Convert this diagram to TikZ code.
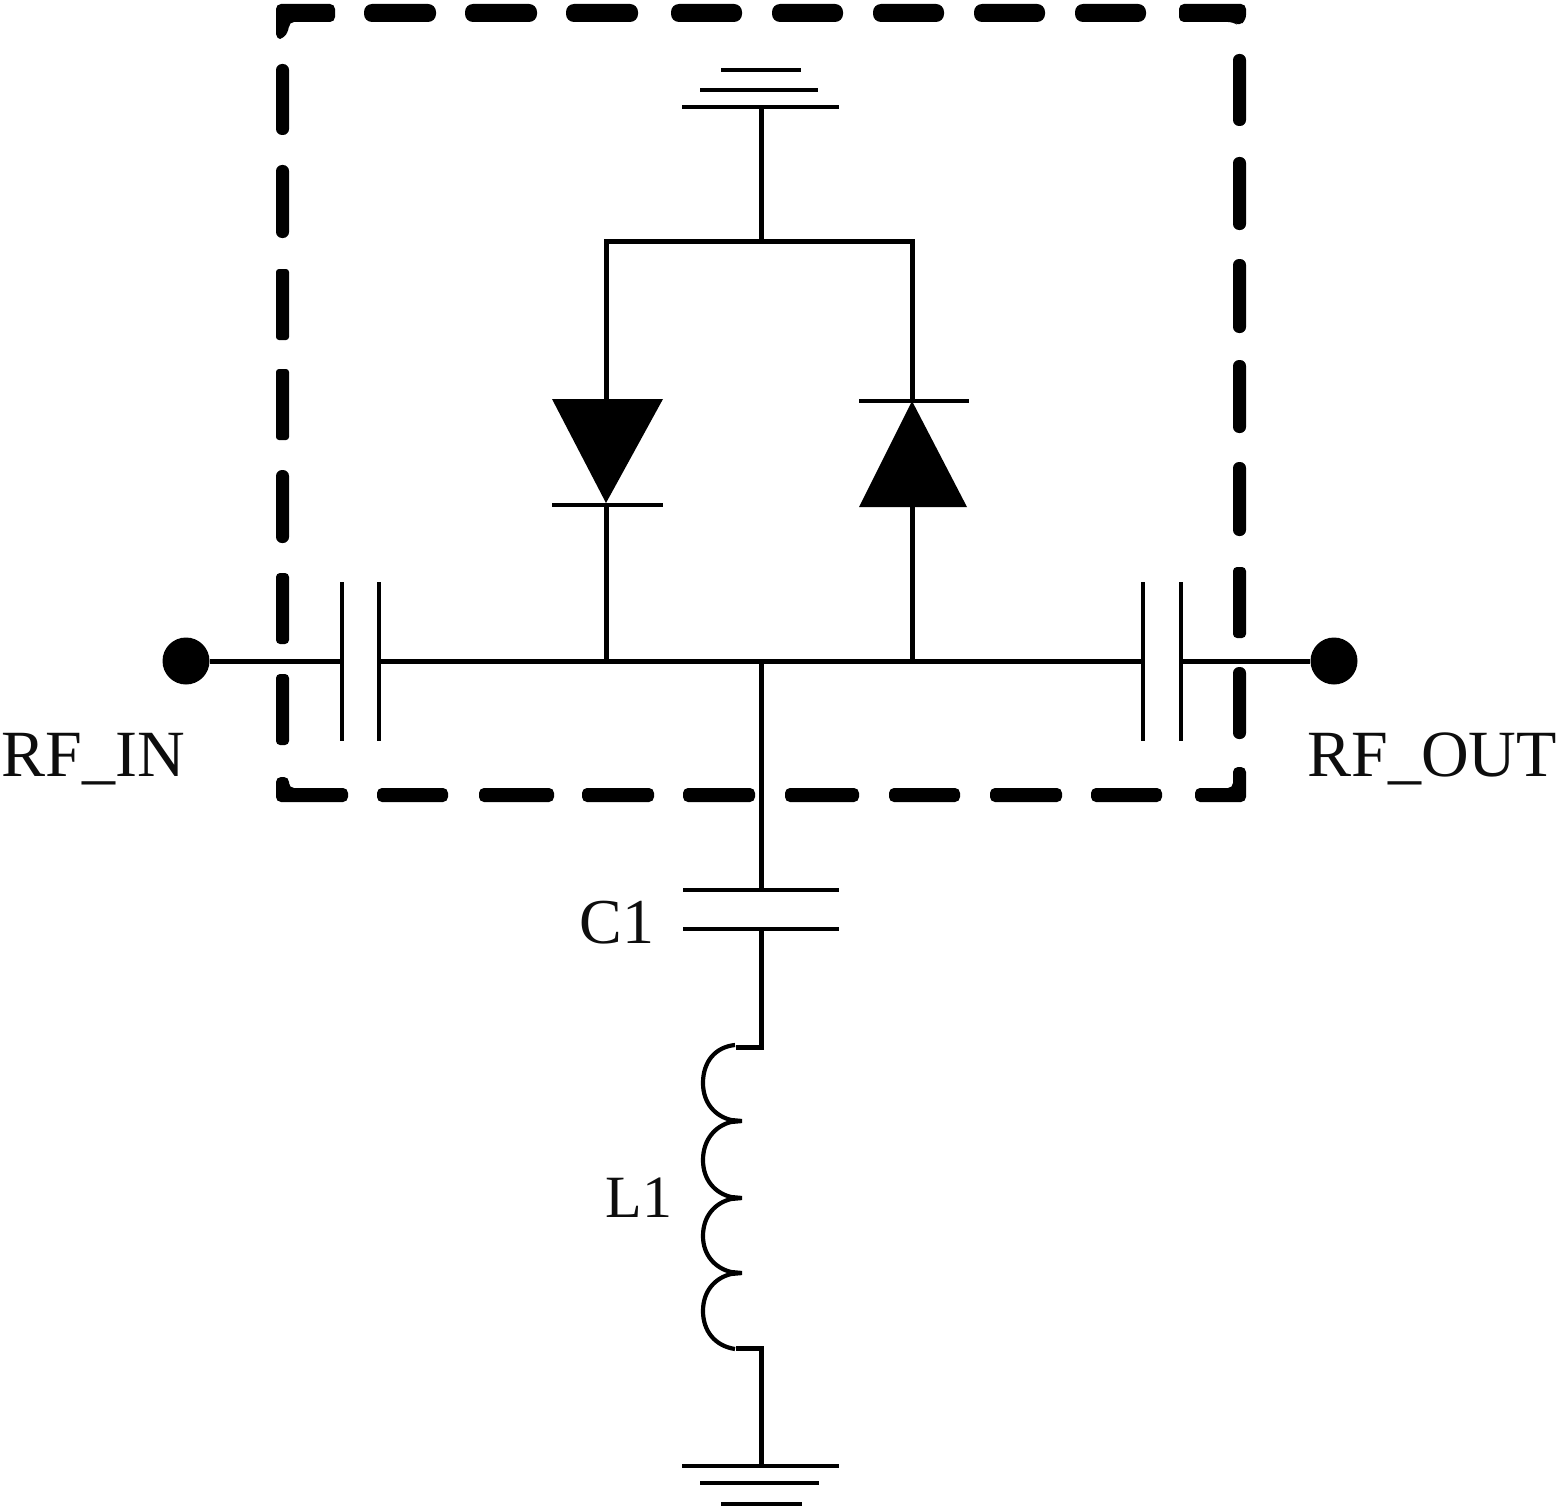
\documentclass[tikz,border=0pt]{standalone}
\usepackage{fontspec}
\setmainfont{Liberation Serif}
\tikzset{
  x=0.5pt,y=-0.5pt,
  wire/.style={draw=black,line width=2.5pt,line join=miter},
  plate/.style={draw=black,line width=2.2pt},
  coilline/.style={draw=black,line width=2.1pt},
  dashpiece/.style={fill=black,rounded corners=#1},
  terminal/.style={circle,fill=black,draw=none,minimum size=23.5pt,inner sep=0pt},
  lab/.style={anchor=base west,inner sep=0pt,font=\fontsize{33}{36}\selectfont,text=black!95},
  diodefill/.style={fill=black,draw=none}
}
\begin{document}
\begin{tikzpicture}
\useasboundingbox (0,0) rectangle (1559,1509);
\fill[white] (0,0) rectangle (1559,1509);

% dashed box: top side
\foreach \a/\b in {364/436,465/537,566/638,671/742,772/843,873/944,974/1045,1075/1146}
  \fill[dashpiece=4pt] (\a,4) rectangle (\b,22);
% left side
\foreach \a/\b/\r in {64/135/3pt,165/238/3pt,269/340/1.5pt,369/440/1.5pt,470/543/3pt,573/644/2pt,674/745/2pt}
  \fill[dashpiece=\r] (276,\a) rectangle (289,\b);
% right side
\foreach \a/\b/\r in {54/126/3pt,157/230/3pt,259/333/3pt,360/433/3pt,462/536/3pt,567/638/2pt,667/739/3pt}
  \fill[dashpiece=\r] (1233,\a) rectangle (1246,\b);
% bottom side
\foreach \a/\b in {377/448,479/554,582/654,683/755,785/859,889/960,990/1062,1091/1162}
  \fill[dashpiece=2.5pt] (\a,788) rectangle (\b,802);
% corners
\fill[rounded corners=2.5pt] (335,4) -- (276,4) -- (276,39) -- (283,39) -- (289,30) -- (289,22) -- (335,22) -- cycle;
\fill[rounded corners=2.5pt] (1179,4) -- (1246,4) -- (1246,20) -- (1239,26) -- (1233,22) -- (1179,22) -- cycle;
\fill[rounded corners=2.5pt] (276,802) -- (348,802) -- (348,788) -- (289,788) -- (289,777) -- (276,777) -- cycle;
\fill[rounded corners=2.5pt] (1195,788) -- (1233,788) -- (1233,767) -- (1246,767) -- (1246,802) -- (1195,802) -- cycle;

% terminals
\node[terminal] (inT) at (186,661) {};
\node[terminal] (outT) at (1334,661) {};

% coordinates
\coordinate (c1L) at (342,661);
\coordinate (c1R) at (379,661);
\coordinate (c2L) at (1143,661);
\coordinate (c2R) at (1181,661);
\coordinate (jL) at (606,661);
\coordinate (jM) at (761,661);
\coordinate (jR) at (912,661);
\coordinate (tL) at (606,241);
\coordinate (tM) at (761,241);
\coordinate (tR) at (912,241);
\coordinate (gTop) at (761,107);
\coordinate (dLa) at (606,399);
\coordinate (dLc) at (606,505);
\coordinate (dRc) at (912,401);
\coordinate (dRa) at (912,507);
\coordinate (cTop) at (761,890);
\coordinate (cBot) at (761,929);
\coordinate (lTop) at (761,1047);
\coordinate (lBot) at (761,1348);
\coordinate (gBot) at (761,1466);

% horizontal rail and input/output
\draw[wire] (inT) -- (c1L);
\draw[wire] (c1R) -- (c2L);
\draw[wire] (c2R) -- (outT);
% series capacitors
\draw[plate] (342,582) -- (342,741);
\draw[plate] (379,582) -- (379,741);
\draw[plate] (1143,582) -- (1143,741);
\draw[plate] (1181,582) -- (1181,741);

% diode branches
\draw[wire] (jL) -- (dLc);
\draw[wire] (dLa) -- (tL) -- (tR) -- (dRc);
\draw[wire] (jR) -- (dRa);
\draw[wire] (tM) -- (gTop);
\fill[diodefill] (552,399) -- (663,399) -- (606,503) -- cycle;
\draw[plate] (552,505) -- (663,505);
\fill[diodefill] (859,507) -- (967,507) -- (912,401) -- cycle;
\draw[plate] (859,401) -- (969,401);

% top ground
\draw[plate] (682,107) -- (839,107);
\draw[plate] (700,90) -- (818,90);
\draw[plate] (721,70) -- (801,70);

% shunt branch
\draw[wire] (jM) -- (cTop);
\draw[plate] (683,890) -- (839,890);
\draw[plate] (683,929) -- (839,929);
\draw[wire] (cBot) -- (lTop) -- (736,1047);
\draw[coilline] (735,1045) .. controls (715,1047) and (703,1062) .. (703,1083)
   .. controls (703,1103) and (715,1116) .. (731,1120) -- (742,1121)
   (742,1121) -- (731,1122) .. controls (715,1126) and (703,1140) .. (703,1160)
   .. controls (703,1180) and (715,1193) .. (731,1197) -- (742,1198)
   (742,1198) -- (731,1199) .. controls (715,1203) and (703,1216) .. (703,1236)
   .. controls (703,1255) and (715,1268) .. (731,1272) -- (742,1273)
   (742,1273) -- (731,1274) .. controls (715,1278) and (703,1291) .. (703,1311)
   .. controls (703,1331) and (715,1346) .. (735,1349);
\draw[wire] (736,1348) -- (lBot) -- (gBot);

% bottom ground
\draw[plate] (682,1466) -- (839,1466);
\draw[plate] (700,1483) -- (819,1483);
\draw[plate] (721,1504) -- (802,1504);

% labels
\node[lab] (rfin) at (1,776) {RF\_IN};
\node[lab] (rfout) at (1307,776) {RF\_OUT};
\node[lab,font=\fontsize{32}{36}\selectfont] (cone) at (579,943) {C1};
\node[lab,font=\fontsize{30}{36}\selectfont] (lone) at (605,1217) {L1};
\end{tikzpicture}
\end{document}
